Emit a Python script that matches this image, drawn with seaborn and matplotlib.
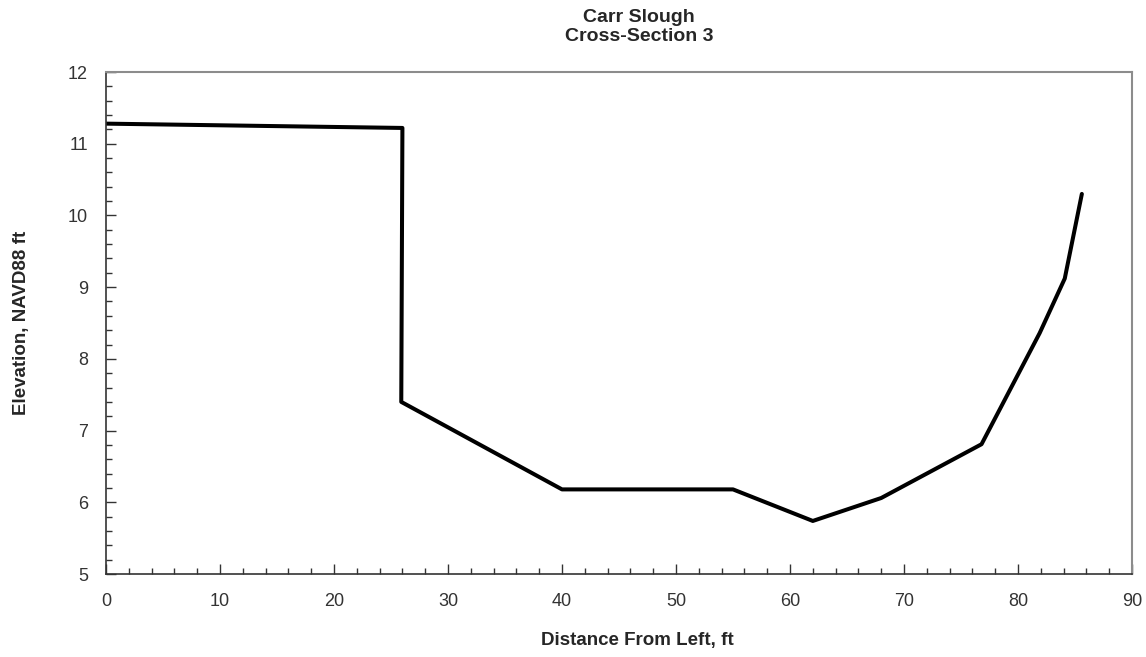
import matplotlib
matplotlib.use("Agg")
import matplotlib.pyplot as plt
from matplotlib.ticker import MultipleLocator
import seaborn as sns
import pandas as pd

# Cross-section survey points
distance_ft = [0, 26.0, 25.9, 40.0, 55.0, 62.0, 68.0, 76.8, 81.9, 84.1, 85.6]
elevation_ft = [11.28, 11.22, 7.40, 6.18, 6.18, 5.74, 6.06, 6.81, 8.36, 9.12, 10.30]

title_lines = ["Carr Slough", "Cross-Section 3"]
x_label = "Distance From Left, ft"
y_label = "Elevation, NAVD88 ft"

sns.set_style("ticks")
plt.rcParams['font.family'] = ['Liberation Sans', 'DejaVu Sans']

df = pd.DataFrame({'distance': distance_ft, 'elevation': elevation_ft})

fig = plt.figure(figsize=(11.46, 6.57), dpi=100)
ax = fig.add_axes([0.0925, 0.1263, 0.8953, 0.7641])

sns.lineplot(data=df, x='distance', y='elevation', sort=False, estimator=None,
             color='black', linewidth=2.9, ax=ax)

ax.set_xlim(0, 90)
ax.set_ylim(5, 12)
ax.xaxis.set_major_locator(MultipleLocator(10))
ax.xaxis.set_minor_locator(MultipleLocator(2))
ax.yaxis.set_major_locator(MultipleLocator(1))
ax.yaxis.set_minor_locator(MultipleLocator(0.2))
ax.tick_params(which='both', direction='in', color='#333333', width=1,
               labelsize=13, labelcolor='#333333')
ax.tick_params(axis='x', pad=14)
ax.tick_params(axis='y', pad=13)
ax.tick_params(which='major', length=7)
ax.tick_params(which='minor', length=4)

for side in ['left', 'bottom']:
    ax.spines[side].set_color('#333333')
    ax.spines[side].set_linewidth(1.2)
for side in ['top', 'right']:
    ax.spines[side].set_visible(True)
    ax.spines[side].set_color('#8c8c8c')
    ax.spines[side].set_linewidth(1.5)

ax.set_xlabel(x_label, fontsize=13.5, fontweight='bold')
ax.set_ylabel(y_label, fontsize=13.5, fontweight='bold')
ax.xaxis.set_label_coords(0.518, -0.116)
ax.yaxis.set_label_coords(-0.074, 0.5)
fig.text(0.5576, 0.986, "\n".join(title_lines), ha='center', va='top',
         fontsize=14, fontweight='bold', linespacing=1.15)

fig.savefig('out.png', dpi=100)
